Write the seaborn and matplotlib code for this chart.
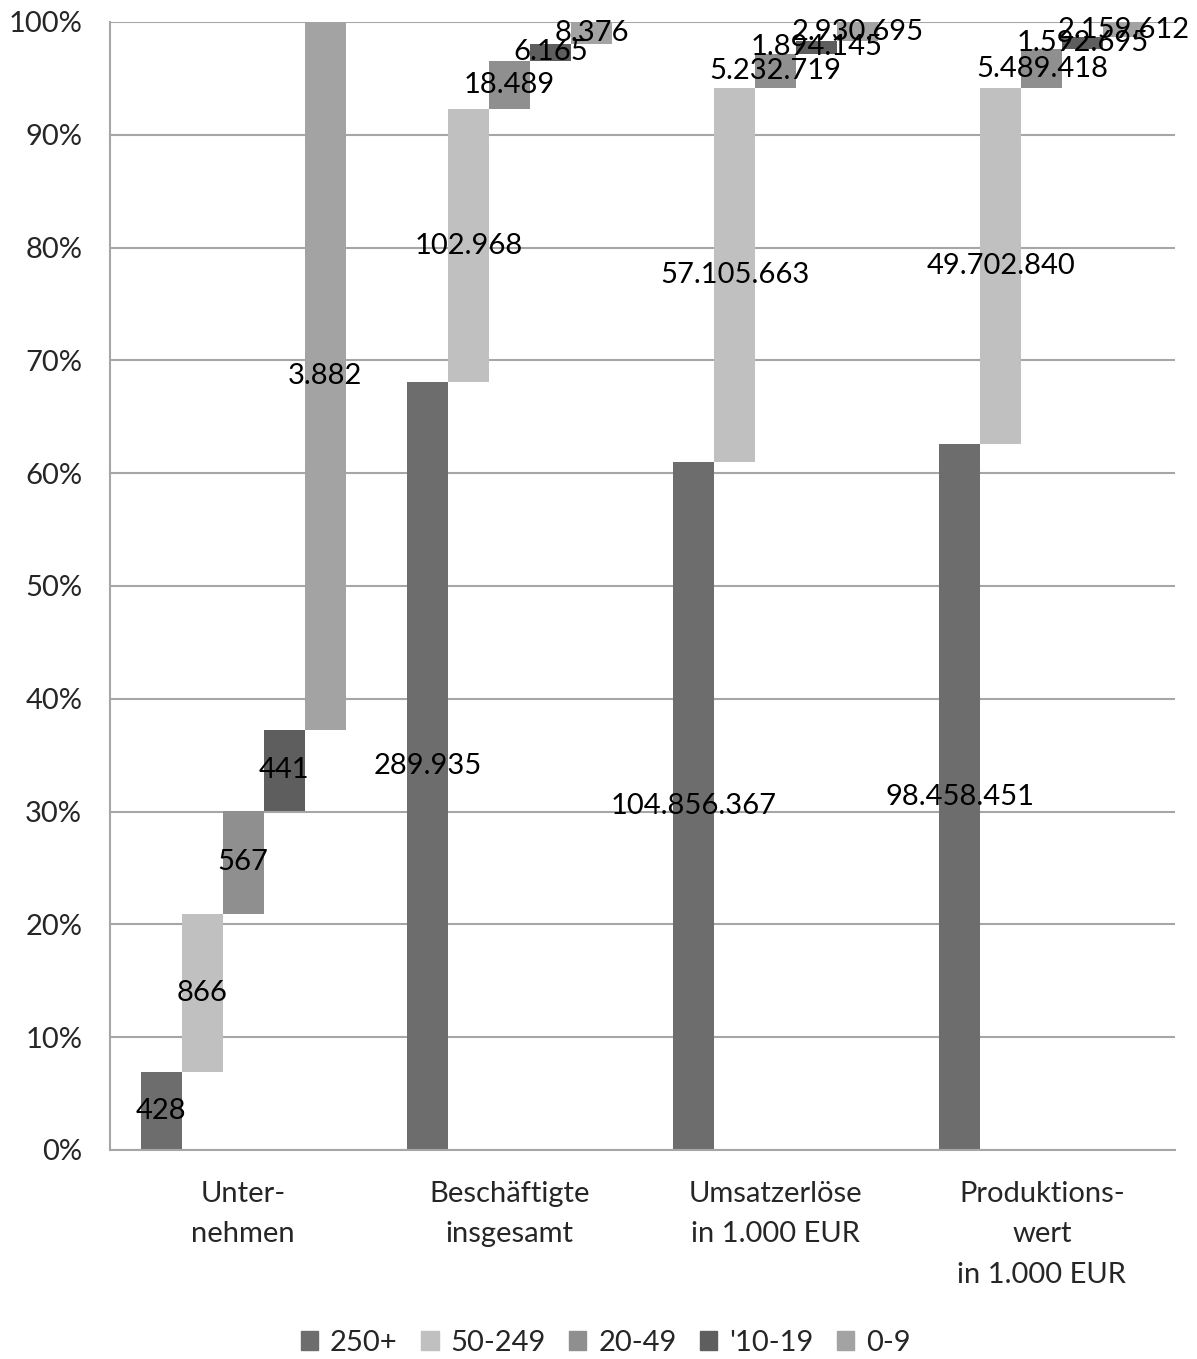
import numpy as np
import pandas as pd
import matplotlib
matplotlib.use("Agg")
import matplotlib.pyplot as plt
import matplotlib.patches as mpatches
import seaborn as sns

# ---- data ----
categories = ["Unter-\nnehmen", "Beschäftigte\ninsgesamt", "Umsatzerlöse\nin 1.000 EUR",
              "Produktions-\nwert\nin 1.000 EUR"]
series = ["250+", "50-249", "20-49", "'10-19", "0-9"]
v_250 = [428, 289935, 104856367, 98458451]
v_50_249 = [866, 102968, 57105663, 49702840]
v_20_49 = [567, 18489, 5232719, 5489418]
v_10_19 = [441, 6165, 1894145, 1592695]
v_0_9 = [3882, 8376, 2930695, 2159612]
colors = ["#6d6d6d", "#c0c0c0", "#8f8f8f", "#5e5e5e", "#a3a3a3"]
yticks = [0, 10, 20, 30, 40, 50, 60, 70, 80, 90, 100]

values = np.array([v_250, v_50_249, v_20_49, v_10_19, v_0_9], dtype=float)  # series x cat
totals = values.sum(axis=0)
shares = values / totals * 100
bottoms = np.vstack([np.zeros(len(categories)), np.cumsum(shares, axis=0)[:-1]])

rows = []
for i, s in enumerate(series):
    for j, c in enumerate(categories):
        rows.append({"cat": c, "series": s, "share": shares[i, j]})
df = pd.DataFrame(rows)

sns.set_style("white")
plt.rcParams["font.family"] = ["Lato", "DejaVu Sans"]
FS = 21

fig = plt.figure(figsize=(11.97, 13.59), dpi=100)
ax = fig.add_axes([110 / 1197, 1 - 1150 / 1359, (1175 - 110) / 1197, (1150 - 22) / 1359])

sns.barplot(data=df, x="cat", y="share", hue="series", order=categories, hue_order=series,
            palette=colors, dodge=True, width=0.77, gap=0, saturation=1, ax=ax,
            errorbar=None, legend=False, linewidth=0)

# float each bar on top of the cumulative share of the previous series
for i, cont in enumerate(ax.containers):
    for j, rect in enumerate(cont):
        rect.set_y(bottoms[i, j])
    labels = [f"{int(v):,}".replace(",", ".") for v in values[i]]
    ax.bar_label(cont, labels=labels, label_type="center", fontsize=FS, color="black")

ax.set_ylim(0, 100)
ax.set_xlim(-0.5, 3.5)
ax.set_yticks(yticks)
ax.set_yticklabels([f"{t}%" for t in yticks])
ax.set_xlabel("")
ax.set_ylabel("")
ax.yaxis.grid(True, color="#a6a6a6", linewidth=1.5)
ax.set_axisbelow(True)
for s in ["top", "right"]:
    ax.spines[s].set_visible(False)
for s in ["left", "bottom"]:
    ax.spines[s].set_color("#a6a6a6")
    ax.spines[s].set_linewidth(1.5)
ax.tick_params(axis="y", length=0, pad=20, labelsize=FS)
ax.tick_params(axis="x", length=0, pad=22, labelsize=FS)
for lbl in ax.get_xticklabels():
    lbl.set_linespacing(1.7)

handles = [mpatches.Patch(color=c, label=s) for s, c in zip(series, colors)]
fig.legend(handles=handles, loc="center", bbox_to_anchor=(0.506, 1 - 1343 / 1359), ncol=5,
           frameon=False, fontsize=FS, handlelength=0.6, handleheight=0.6,
           handletextpad=0.4, columnspacing=0.8, borderpad=0)

fig.savefig("out.png", dpi=100)
